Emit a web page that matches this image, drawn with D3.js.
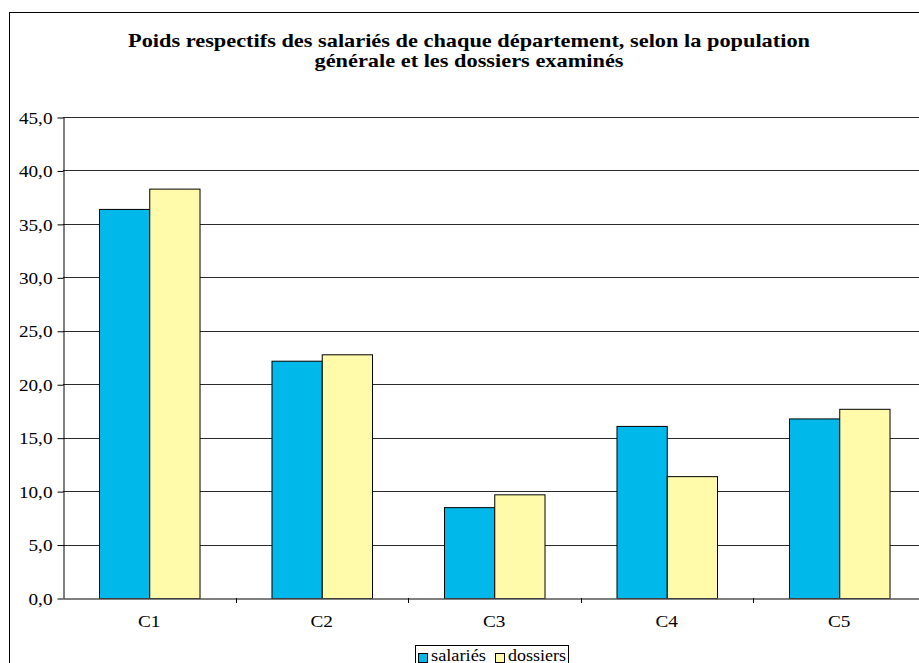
<!DOCTYPE html>
<html><head><meta charset="utf-8">
<script src="https://cdn.jsdelivr.net/npm/d3@7"></script>
<style>body{margin:0;background:#fff;overflow:hidden}svg{display:block}</style>
</head><body>
<svg id="c" width="919" height="663"></svg>
<script>
const categories = ["C1","C2","C3","C4","C5"];
const seriesNames = ["salariés","dossiers"];
const salaries = [36.4, 22.2, 8.5, 16.1, 16.8];
const dossiers = [38.3, 22.8, 9.7, 11.4, 17.7];
const yTicks = [0,5,10,15,20,25,30,35,40,45];
const colors = ["#00B9EA","#FFFBAA"];
const titleLines = ["Poids respectifs des salariés de chaque département, selon la population","générale et les dossiers examinés"];

const FONT = "Liberation Serif, Times New Roman, serif";
const STRETCH = 1.13;
function stretch(sel, k){
  sel.each(function(){
    const w = this.getComputedTextLength();
    d3.select(this).attr("textLength", w*(k||STRETCH)).attr("lengthAdjust","spacingAndGlyphs");
  });
}
const svg = d3.select("#c");
const L = 63, R = 925.5, T = 117, B = 598;
svg.append("rect").attr("x",9.5).attr("y",12.5).attr("width",960).attr("height",700)
  .attr("fill","#fff").attr("stroke","#000").attr("stroke-width",1);

const x = d3.scaleBand().domain(categories).range([L,R]).paddingInner(0).paddingOuter(0);
const xs = d3.scaleBand().domain(seriesNames).range([0,x.bandwidth()]).paddingInner(0).paddingOuter(0.716);
const y = d3.scaleLinear().domain([0,45]).range([B,T]);

svg.append("g").selectAll("line").data(yTicks.slice(1)).join("line")
  .attr("x1",L).attr("x2",R).attr("y1",d=>Math.round(y(d))+0.5).attr("y2",d=>Math.round(y(d))+0.5)
  .attr("stroke","#2a2a2a").attr("stroke-width",1.2);

const yAxis = d3.axisLeft(y).tickValues(yTicks).tickSize(6).tickSizeOuter(0)
  .tickFormat(d=>d3.format(".1f")(d).replace(".",","));
const gy = svg.append("g").attr("transform",`translate(${L+0.5},0.5)`).call(yAxis);
gy.attr("font-family",null);
gy.selectAll("text").style("font-family",FONT).attr("font-size",17).attr("fill","#000").attr("x",-11).attr("dy","0.33em");
stretch(gy.selectAll("text"));
gy.selectAll("line,path").attr("stroke","#000");

const data = categories.map((c,i)=>({c, vals:[salaries[i],dossiers[i]]}));
const g = svg.append("g");
data.forEach(d=>{
  d.vals.forEach((v,j)=>{
    g.append("rect")
      .attr("x",x(d.c)+xs(seriesNames[j])+0.5)
      .attr("y",y(v)+0.5)
      .attr("width",xs.bandwidth())
      .attr("height",y(0)-y(v))
      .attr("fill",colors[j]).attr("stroke","#000").attr("stroke-width",1);
  });
});

const xAxis = d3.axisBottom(x).tickSize(0).tickSizeOuter(0);
const gx = svg.append("g").attr("transform",`translate(0,${B+0.5})`).call(xAxis);
gx.attr("font-family",null);
gx.select("path").attr("stroke","#555").attr("stroke-width",1.5);
gx.selectAll("text").style("font-family",FONT).attr("font-size",17).attr("fill","#000").attr("dy",null).attr("y",28);
stretch(gx.selectAll("text"));
svg.append("g").selectAll("line").data(categories.slice(1)).join("line")
  .attr("x1",d=>Math.round(x(d))+0.5).attr("x2",d=>Math.round(x(d))+0.5)
  .attr("y1",B).attr("y2",B+5).attr("stroke","#000");

const titleW = [682, 309];
svg.append("g").selectAll("text").data(titleLines).join("text")
  .style("font-family",FONT)
  .attr("x",469).attr("y",(d,i)=>47+i*20).attr("text-anchor","middle")
  .attr("font-size",19).attr("font-weight","bold")
  .attr("textLength",(d,i)=>titleW[i]).attr("lengthAdjust","spacingAndGlyphs").text(d=>d);

const lg = svg.append("g").attr("transform","translate(415,645)");
lg.append("rect").attr("x",0.5).attr("y",0.5).attr("width",153).attr("height",24).attr("fill","#fff").attr("stroke","#000");
const items = [{n:seriesNames[0],c:colors[0],x:3,w:55},{n:seriesNames[1],c:colors[1],x:80,w:58}];
items.forEach(it=>{
  lg.append("rect").attr("x",it.x+0.5).attr("y",8.5).attr("width",9).attr("height",9).attr("fill",it.c).attr("stroke","#000");
  lg.append("text").style("font-family",FONT).attr("x",it.x+13).attr("y",16).attr("font-size",17)
    .attr("textLength",it.w).attr("lengthAdjust","spacingAndGlyphs").text(it.n);
});
</script>
</body></html>
